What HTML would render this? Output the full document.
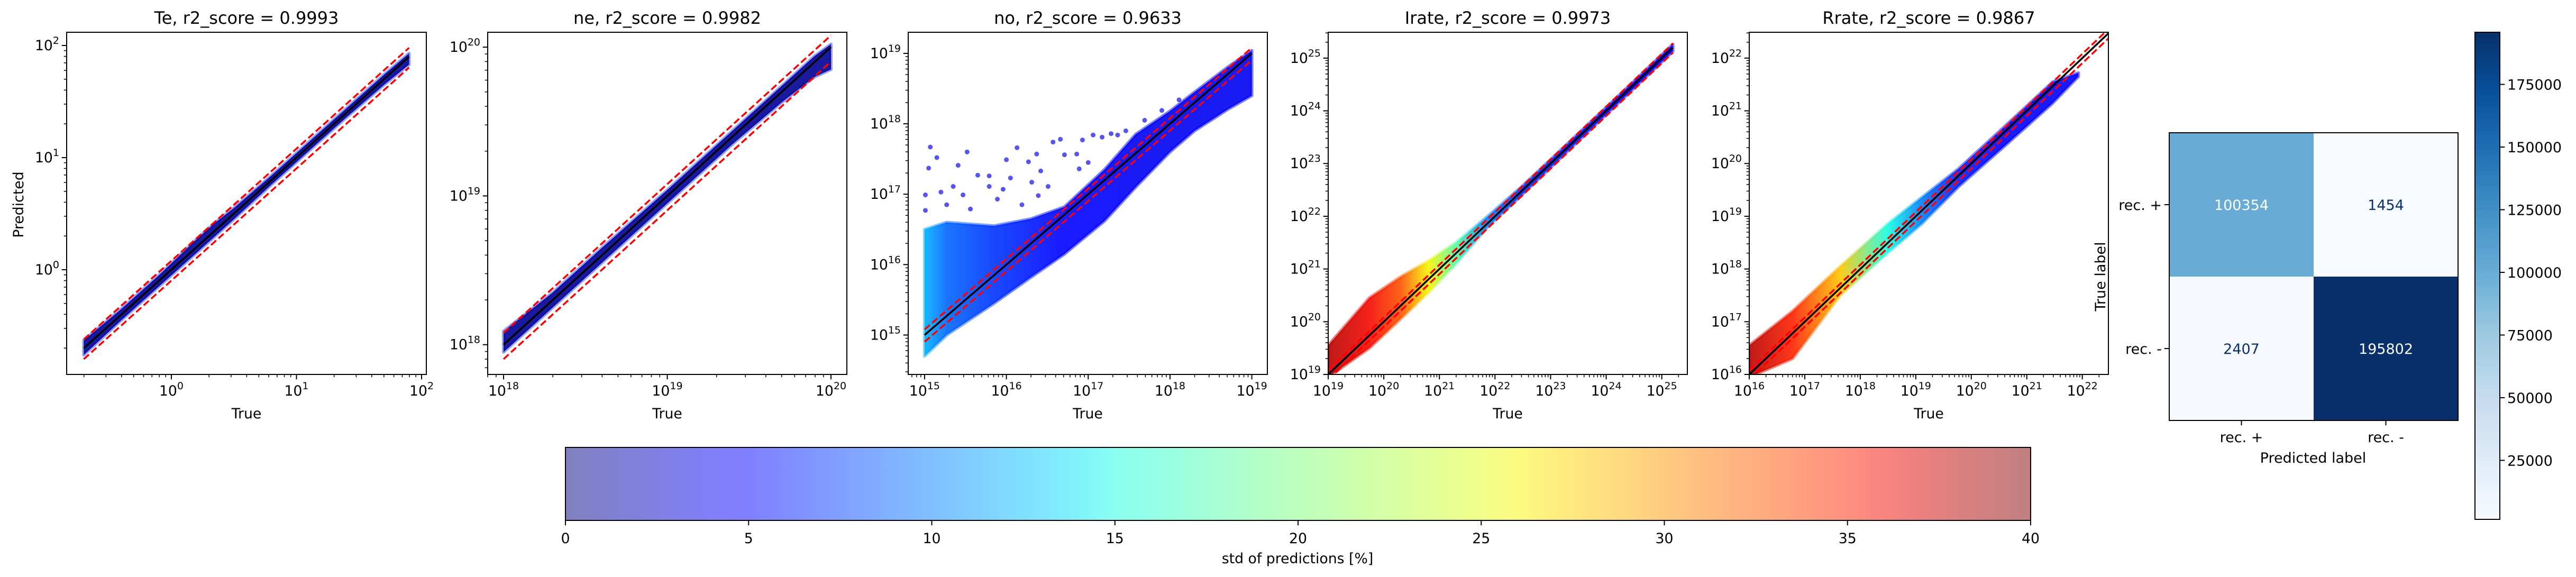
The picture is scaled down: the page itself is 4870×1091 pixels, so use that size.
<!DOCTYPE html>
<html><head><meta charset="utf-8">
<style>
html,body{margin:0;padding:0;background:#fff;}
svg{display:block;font-family:"DejaVu Sans","Liberation Sans",sans-serif;}
</style></head>
<body>
<svg id="fig" xmlns="http://www.w3.org/2000/svg" width="4870" height="1091" viewBox="0 0 4870 1091"></svg>
<script>
// ---------------- DATA (log10 values) ----------------
const panelTitles = ["Te, r2_score = 0.9993","ne, r2_score = 0.9982","no, r2_score = 0.9633","Irate, r2_score = 0.9973","Rrate, r2_score = 0.9867"];
const teLogTrue = [-0.70,-0.40,-0.10,0.20,0.35,0.50,0.80,1.10,1.40,1.70,1.90];
const teLogHi   = [-0.63,-0.35,-0.05,0.27,0.42,0.55,0.84,1.14,1.44,1.74,1.93];
const teLogLo   = [-0.76,-0.45,-0.15,0.15,0.30,0.45,0.76,1.06,1.36,1.65,1.83];
const teStd     = [2,2,2,2,2,2,2,2,2,2,2];
const neLogTrue = [18.0,18.3,18.6,19.0,19.4,19.7,19.9,20.0];
const neLogHi   = [18.09,18.35,18.65,19.04,19.44,19.74,19.94,20.02];
const neLogLo   = [17.95,18.25,18.55,18.95,19.35,19.63,19.80,19.85];
const neStd     = [2,2,2,2,2,2,2,2];
const noLogTrue = [15.0,15.27,15.85,16.3,16.71,17.2,17.58,18.0,18.3,18.7,19.0];
const noLogHi   = [16.5,16.6,16.55,16.65,16.82,17.35,17.85,18.18,18.45,18.8,19.04];
const noLogLo   = [14.7,15.0,15.45,15.82,16.15,16.62,17.1,17.6,17.9,18.2,18.4];
const noStd     = [12,9,7,6,5,5,4,4,4,4,4];
const irLogTrue = [19.0,19.74,20.3,20.8,21.3,21.87,22.5,23.5,24.5,25.2];
const irLogHi   = [19.55,20.45,20.85,21.15,21.5,22.0,22.58,23.57,24.56,25.26];
const irLogLo   = [18.95,19.5,20.05,20.55,21.1,21.8,22.42,23.43,24.43,25.13];
const irStd     = [38,36,33,26,18,10,7,6,5,5];
const rrLogTrue = [16.0,16.78,17.64,18.49,19.1,19.77,20.62,21.47,21.93];
const rrLogHi   = [16.55,17.2,18.05,18.85,19.35,19.9,20.72,21.55,21.72];
const rrLogLo   = [15.95,16.3,17.5,18.3,18.85,19.56,20.35,21.15,21.65];
const rrStd     = [38,35,28,15,10,6,5,5,5];
// scattered outliers of the "no" panel
const noOutTrue = [15.07,15.15,15.05,15.52,15.41,16.13,16.00,16.37,16.57,16.66,16.27,15.65,15.79,16.05,16.42,16.71,16.86,16.93,17.06,17.17,17.28,17.36,15.01,15.20,15.35,15.47,15.79,15.96,16.31,16.51,16.89,17.00,17.46,17.69,17.90,18.11,15.01,15.27,15.56,15.89,16.19,16.39];
const noOutPred = [17.67,17.52,17.37,17.60,17.41,17.66,17.49,17.57,17.74,17.78,17.46,17.27,17.26,17.23,17.33,17.56,17.57,17.77,17.84,17.81,17.86,17.84,16.99,17.03,17.11,16.99,17.11,17.07,17.17,17.11,17.36,17.45,17.90,18.05,18.19,18.34,16.77,16.85,16.79,16.93,16.85,16.98];
// identity line extents
const lineLogMin = [-0.70,18.0,15.0,19.0,16.0];
const lineLogMax = [1.90,20.0,19.0,25.2,22.6];
// axis ranges
const xLogRange = [[-0.837,2.038],[17.903,20.097],[14.80,19.19],[19.0,25.46],[16.0,22.47]];
const yLogRange = [[-0.934,2.118],[17.80,20.10],[14.44,19.30],[19.0,25.49],[16.0,22.49]];
// confusion matrix
const cmLabels = ["rec. +","rec. -"];
const cmValues = [[100354,1454],[2407,195802]];
const cmTicks = [25000,50000,75000,100000,125000,150000,175000];
const stdTicks = [0,5,10,15,20,25,30,35,40];

// ---------------- helpers ----------------
const NS="http://www.w3.org/2000/svg";
const svg=document.getElementById('fig');
function el(tag,attrs,parent){const e=document.createElementNS(NS,tag);for(const k in attrs)e.setAttribute(k,attrs[k]);(parent||svg).appendChild(e);return e;}
function jet(t){t=Math.max(0,Math.min(1,t));
 function interp(pts){for(let i=1;i<pts.length;i++){if(t<=pts[i][0]){const a=pts[i-1],b=pts[i];return a[1]+(b[1]-a[1])*(t-a[0])/(b[0]-a[0]);}}return pts[pts.length-1][1];}
 const r=interp([[0,0],[0.35,0],[0.66,1],[0.89,1],[1,0.5]]);
 const g=interp([[0,0],[0.125,0],[0.375,1],[0.64,1],[0.91,0],[1,0]]);
 const b=interp([[0,0.5],[0.11,1],[0.34,1],[0.65,0],[1,0]]);
 return [r*255,g*255,b*255];}
function rgb(c){return 'rgb('+c.map(v=>Math.round(v)).join(',')+')';}
const bluesStops=["#f7fbff","#deebf7","#c6dbef","#9ecae1","#6baed6","#4292c6","#2171b5","#08519c","#08306b"];
function hex2(c){return [1,3,5].map(i=>parseInt(c.substr(i,2),16));}
function blues(t){t=Math.max(0,Math.min(1,t));const n=bluesStops.length-1;const i=Math.min(n-1,Math.floor(t*n));const f=t*n-i;const a=hex2(bluesStops[i]),b=hex2(bluesStops[i+1]);return rgb(a.map((v,k)=>v+(b[k]-v)*f));}

const boxes=[[126,806],[922,1601],[1717,2396],[2511,3190],[3307,3986]];
const TOP=61,BOT=708;
const bandTrue=[teLogTrue,neLogTrue,noLogTrue,irLogTrue,rrLogTrue];
const bandHi=[teLogHi,neLogHi,noLogHi,irLogHi,rrLogHi];
const bandLo=[teLogLo,neLogLo,noLogLo,irLogLo,rrLogLo];
const bandStd=[teStd,neStd,noStd,irStd,rrStd];

const defs=el('defs',{});

function supLabel(parent,x,y,exp,anchor){
 const t=el('text',{x:x,y:y,'font-size':26.7,'text-anchor':anchor,fill:'#000'},parent);
 t.appendChild(document.createTextNode('10'));
 const s=el('tspan',{dy:-12,'font-size':19},t);s.textContent=String(exp);
 return t;}

for(let p=0;p<5;p++){
 const [L,R]=boxes[p];
 const g=el('g',{});
 
 
 const xr=xLogRange[p], yr=yLogRange[p];
 const X=v=>L+(v-xr[0])/(xr[1]-xr[0])*(R-L);
 const Y=v=>BOT-(v-yr[0])/(yr[1]-yr[0])*(BOT-TOP);
 const clip=el('clipPath',{id:'clip'+p},defs);
 el('rect',{x:L,y:TOP,width:R-L,height:BOT-TOP},clip);
 const plot=el('g',{'clip-path':'url(#clip'+p+')'},g);
 const tv=bandTrue[p], hv=bandHi[p], lv=bandLo[p], sv=bandStd[p];
 const x0=X(tv[0]), x1=X(tv[tv.length-1]);
 const grad=el('linearGradient',{id:'bandg'+p,gradientUnits:'userSpaceOnUse',x1:x0,y1:0,x2:x1,y2:0},defs);
 for(let i=0;i<tv.length;i++){
  let c=jet(sv[i]/40);
  if(p<2) c=[0,0,150];
  el('stop',{offset:((X(tv[i])-x0)/(x1-x0)).toFixed(4),'stop-color':rgb(c)},grad);
 }
 let d='';
 for(let i=0;i<tv.length;i++) d+=(i?'L':'M')+X(tv[i]).toFixed(1)+','+Y(hv[i]).toFixed(1);
 for(let i=tv.length-1;i>=0;i--) d+='L'+X(tv[i]).toFixed(1)+','+Y(lv[i]).toFixed(1);
 d+='Z';
 const halo=el('path',{d:d,fill:'none',stroke:p<2?'#3040f0':'url(#bandg'+p+')','stroke-width':6,'stroke-linejoin':'round',opacity:0.5},plot);
 
 
 const band=el('path',{d:d,fill:'url(#bandg'+p+')',opacity:0.9},plot);
 
 
 if(p===2){
  for(let i=0;i<noOutTrue.length;i++){
   const c=el('circle',{cx:X(noOutTrue[i]),cy:Y(noOutPred[i]),r:4.5,fill:'rgb(30,30,230)','fill-opacity':0.75},plot);
   
   
  }
 }
 const a=lineLogMin[p], b=lineLogMax[p];
 const off=[Math.log10(1.2),Math.log10(0.8)];
 for(const o of off){
  const ln=el('line',{x1:X(a),y1:Y(a+o),x2:X(b),y2:Y(b+o),stroke:'#ff0000','stroke-width':3.5,'stroke-dasharray':'13,6'},plot);
  
  
 }
 const idl=el('line',{x1:X(a),y1:Y(a),x2:X(b),y2:Y(b),stroke:'#000','stroke-width':3.5},plot);
 
 
 const fr=el('rect',{x:L,y:TOP,width:R-L,height:BOT-TOP,fill:'none',stroke:'#000','stroke-width':2},g);
 
 
 const xt=el('g',{},g);
 
 
 const yt=el('g',{},g);
 
 
 for(let dec=Math.floor(xr[0]);dec<=Math.ceil(xr[1]);dec++){
  for(let m=1;m<10;m++){
   const v=dec+Math.log10(m); if(v<xr[0]-1e-6||v>xr[1]+1e-6) continue;
   const x=X(v);
   el('line',{x1:x,y1:BOT,x2:x,y2:BOT+(m===1?9.3:5.3),stroke:'#000','stroke-width':m===1?2:1.5},xt);
   if(m===1) supLabel(xt,x,748,dec,'middle');
  }
 }
 for(let dec=Math.floor(yr[0]);dec<=Math.ceil(yr[1]);dec++){
  for(let m=1;m<10;m++){
   const v=dec+Math.log10(m); if(v<yr[0]-1e-6||v>yr[1]+1e-6) continue;
   const y=Y(v);
   el('line',{x1:L,y1:y,x2:L-(m===1?9.3:5.3),y2:y,stroke:'#000','stroke-width':m===1?2:1.5},yt);
   if(m===1) supLabel(yt,L-14,y+9,dec,'end');
  }
 }
 const tt=el('text',{x:(L+R)/2,y:45,'font-size':32,'text-anchor':'middle'},g);
 tt.textContent=panelTitles[p];
 
 
 const xl=el('text',{x:(L+R)/2,y:791,'font-size':26.7,'text-anchor':'middle'},g);
 xl.textContent='True';
 
 
 if(p===0){
  const yl=el('text',{x:0,y:0,'font-size':26.7,'text-anchor':'middle',transform:'translate(44,387) rotate(-90)'},g);
  yl.textContent='Predicted';
  
  
 }
}

// ---------------- std colorbar ----------------
(function(){
 const L=1069,R=3839,T=846,B=984;
 const g=el('g',{});
 
 
 const gr=el('linearGradient',{id:'jetg',x1:0,y1:0,x2:1,y2:0},defs);
 for(let i=0;i<=40;i++){const c=jet(i/40).map(v=>v*0.5+127.5);el('stop',{offset:i/40,'stop-color':rgb(c)},gr);}
 el('rect',{x:L,y:T,width:R-L,height:B-T,fill:'url(#jetg)',stroke:'#000','stroke-width':2},g);
 for(const v of stdTicks){
  const x=L+v/40*(R-L);
  el('line',{x1:x,y1:B,x2:x,y2:B+9.3,stroke:'#000','stroke-width':2},g);
  const t=el('text',{x:x,y:1027,'font-size':26.7,'text-anchor':'middle'},g);t.textContent=String(v);
 }
 const lb=el('text',{x:2453,y:1065,'font-size':26.7,'text-anchor':'middle'},g);
 lb.textContent='std of predictions [%]';
 
 
})();

// ---------------- confusion matrix ----------------
(function(){
 const L=4101,R=4647,T=251,B=795;
 const vmin=1454,vmax=195802;
 const g=el('g',{});
 
 
 const cw=(R-L)/2,ch=(B-T)/2;
 for(let i=0;i<2;i++)for(let j=0;j<2;j++){
  const v=cmValues[i][j]; const t=(v-vmin)/(vmax-vmin);
  const r=el('rect',{x:L+j*cw,y:T+i*ch,width:cw,height:ch,fill:blues(t)},g);
  
  
  const tx=el('text',{x:L+j*cw+cw/2,y:T+i*ch+ch/2+10,'font-size':27,'text-anchor':'middle',fill:t>0.4?'#ffffff':'#08306b'},g);
  tx.textContent=String(v);
 }
 el('rect',{x:L,y:T,width:R-L,height:B-T,fill:'none',stroke:'#000','stroke-width':2},g);
 for(let k=0;k<2;k++){
  const x=L+k*cw+cw/2, y=T+k*ch+ch/2;
  el('line',{x1:x,y1:B,x2:x,y2:B+9.3,stroke:'#000','stroke-width':2},g);
  const a=el('text',{x:x,y:836,'font-size':27,'text-anchor':'middle'},g);a.textContent=cmLabels[k];
  el('line',{x1:L,y1:y,x2:L-9.3,y2:y,stroke:'#000','stroke-width':2},g);
  const b=el('text',{x:L-14,y:y+10,'font-size':27,'text-anchor':'end'},g);b.textContent=cmLabels[k];
 }
 const xl=el('text',{x:4373,y:875,'font-size':27,'text-anchor':'middle'},g);xl.textContent='Predicted label';
 
 
 const yl=el('text',{x:0,y:0,'font-size':27,'text-anchor':'middle',transform:'translate(3980,523) rotate(-90)'},g);yl.textContent='True label';
 
 
 const cL=4679,cR=4726,cT=61,cB=982;
 const cg=el('g',{});
 
 
 const gr=el('linearGradient',{id:'bluesg',x1:0,y1:1,x2:0,y2:0},defs);
 for(let i=0;i<=16;i++) el('stop',{offset:i/16,'stop-color':blues(i/16)},gr);
 el('rect',{x:cL,y:cT,width:cR-cL,height:cB-cT,fill:'url(#bluesg)',stroke:'#000','stroke-width':2},cg);
 for(const v of cmTicks){
  const y=cB-(v-vmin)/(vmax-vmin)*(cB-cT);
  el('line',{x1:cR,y1:y,x2:cR+9.3,y2:y,stroke:'#000','stroke-width':2},cg);
  const t=el('text',{x:cR+14,y:y+10,'font-size':27},cg);t.textContent=String(v);
 }
})();
</script>
</body></html>
